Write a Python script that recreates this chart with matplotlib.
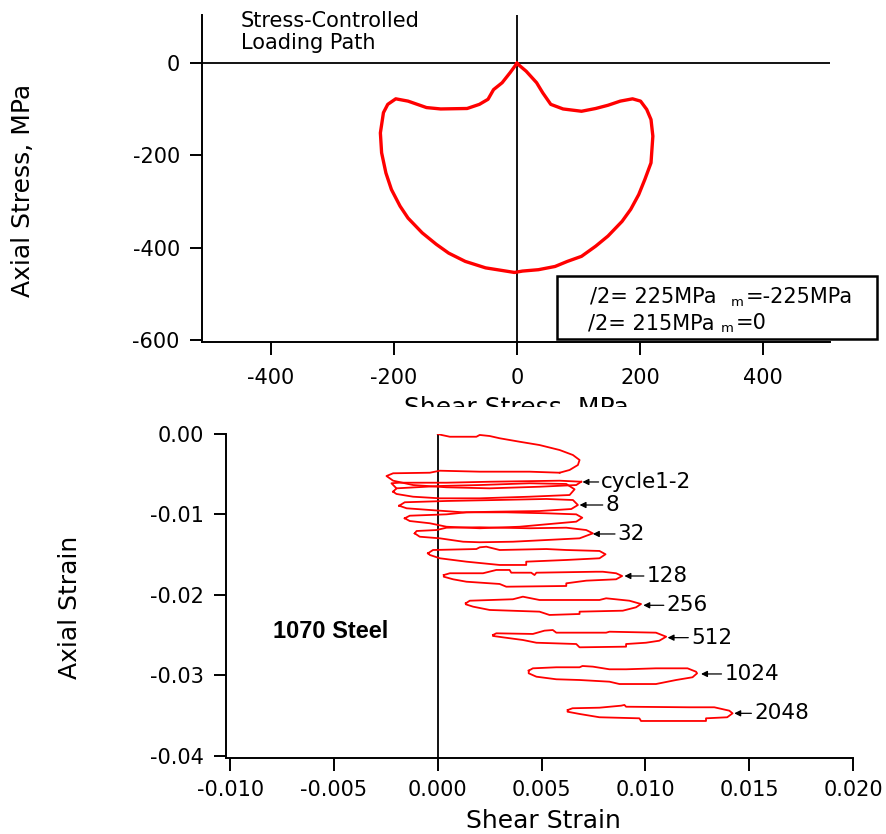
import matplotlib
matplotlib.use("Agg")
import matplotlib.pyplot as plt
from matplotlib.patches import Rectangle
from matplotlib.ticker import FormatStrFormatter

plt.rcParams['font.family'] = ['DejaVu Sans']
plt.rcParams['axes.unicode_minus'] = False

# ---------------- Top panel: stress path (MPa) ----------------
shear_stress = [0, 15, 32, 42, 55, 75, 105, 128, 148, 168, 188, 201, 211, 218, 221,
                218, 208, 198, 185, 171, 148, 128, 105, 82, 62, 35, 9, -4, -18, -51,
                -84, -111, -131, -154, -177, -190, -204, -213, -220, -222, -217, -210,
                -197, -177, -147, -124, -81, -61, -47, -38, -24, -11, 0]
axial_stress = [0, -17, -42, -64, -89, -99, -104, -98, -91, -82, -77, -82, -100, -122, -158,
                -216, -252, -285, -317, -343, -375, -397, -419, -430, -441, -448, -451, -454, -451, -444,
                -430, -412, -393, -368, -336, -310, -274, -238, -194, -151, -107, -89,
                -77, -82, -96, -99, -98, -89, -78, -57, -42, -20, 0]
top_xticks = [-400, -200, 0, 200, 400]
top_yticks = [0, -200, -400, -600]

# ---------------- Bottom panel: strain loops (values in 1e-3 strain) ----------------
initial_x = [0.00, 0.18, 0.58, 1.86, 2.02, 2.50, 2.98, 3.94, 4.90, 5.87, 6.51, 6.83, 6.75, 6.35, 5.87]
initial_y = [0.00, -0.12, -0.34, -0.34, -0.12, -0.25, -0.53, -0.96, -1.37, -1.99, -2.61, -3.23, -3.85, -4.47, -4.81]

cycle1_x = [5.87, 4.42, 2.02, 0.10, -0.38, -2.15, -2.47, -2.15, -1.19, 0.42, 2.50, 4.90, 6.67, 6.91]
cycle1_y = [-4.81, -4.68, -4.68, -4.56, -4.81, -4.88, -5.22, -5.80, -6.34, -6.62, -6.75, -6.55, -6.34, -5.93]
cycle2_x = [6.91, 5.87, 2.50, 0.42, -1.86, -2.23, -1.99]
cycle2_y = [-5.93, -5.80, -5.93, -6.05, -6.05, -6.12, -6.75]

cycle4_x = [-2.15, -1.99, 0.10, 2.02, 4.42, 6.19, 6.59, 6.35, 4.42, 2.02, 0.10, -1.19, -1.99, -2.15]
cycle4_y = [-7.17, -6.75, -6.46, -6.34, -6.12, -6.21, -6.87, -7.58, -7.79, -7.99, -7.99, -7.79, -7.45, -7.17]

cycle8_x = [-1.86, -1.59, 0.42, 2.82, 5.23, 6.51, 6.75, 6.43, 4.90, 2.82, 1.22, -0.38, -1.50, -1.86]
cycle8_y = [-8.91, -8.48, -8.32, -8.20, -8.07, -8.20, -8.82, -9.32, -9.57, -9.65, -9.73, -9.44, -9.23, -8.91]

cycle16_x = [-1.59, -1.35, 0.42, 1.38, 3.30, 5.23, 6.67, 6.96, 6.67, 5.23, 3.94, 2.02, 0.42, -0.38, -1.35, -1.59]
cycle16_y = [-10.47, -10.15, -9.98, -9.73, -9.73, -9.85, -9.98, -10.40, -10.89, -11.22, -11.52, -11.71, -11.52, -11.09, -10.81, -10.47]

cycle32_x = [-1.11, -1.02, -0.06, 0.42, 2.02, 4.42, 6.19, 7.15, 7.47, 6.83, 5.23, 3.62, 2.02, 1.22, 0.10, -0.87, -1.11]
cycle32_y = [-12.34, -12.05, -11.93, -11.64, -11.59, -11.71, -11.64, -11.93, -12.34, -12.96, -13.17, -13.38, -13.45, -13.38, -12.96, -12.76, -12.34]

cycle64_x = [-0.47, -0.23, 1.86, 2.02, 2.34, 2.98, 5.23, 6.19, 7.79, 8.08, 7.79, 6.19, 4.26, 4.26, 2.98, 1.38, 0.10, -0.38, -0.47]
cycle64_y = [-14.82, -14.41, -14.29, -14.08, -14.00, -14.41, -14.29, -14.41, -14.53, -14.94, -15.44, -15.65, -15.86, -16.27, -16.27, -15.86, -15.44, -15.03, -14.82]

cycle128_x = [0.29, 0.58, 2.18, 2.82, 3.46, 3.54, 4.50, 4.66, 4.75, 7.63, 7.95, 8.59, 8.88, 8.59, 7.15, 6.19, 6.19, 3.30, 2.98, 1.38, 0.74, 0.29, 0.29]
cycle128_y = [-17.52, -17.30, -17.30, -16.89, -16.89, -17.23, -17.23, -17.52, -17.23, -17.11, -17.11, -17.30, -17.64, -18.05, -18.22, -18.55, -18.88, -18.97, -18.63, -18.35, -18.05, -17.73, -17.52]

cycle256_x = [1.35, 1.54, 3.62, 4.10, 4.90, 7.79, 8.11, 9.23, 9.79, 9.55, 8.91, 6.83, 6.83, 5.38, 4.90, 2.50, 1.70, 1.35, 1.35]
cycle256_y = [-21.03, -20.71, -20.53, -20.21, -20.62, -20.62, -20.41, -20.71, -21.12, -21.53, -21.95, -22.07, -22.36, -22.48, -22.07, -21.86, -21.45, -21.16, -21.03]

cycle512_x = [2.66, 2.82, 4.58, 5.14, 5.54, 5.71, 8.11, 8.27, 10.51, 11.00, 10.67, 10.03, 9.07, 9.07, 6.83, 6.67, 4.75, 4.10, 3.14, 2.66, 2.66]
cycle512_y = [-24.97, -24.76, -24.84, -24.43, -24.35, -24.68, -24.68, -24.56, -24.68, -25.18, -25.68, -25.93, -26.09, -26.42, -26.50, -26.09, -25.93, -25.59, -25.26, -25.09, -24.97]

cycle1024_x = [4.38, 4.58, 5.71, 6.83, 6.97, 7.47, 8.27, 9.07, 10.51, 12.03, 12.44, 12.49, 12.27, 11.48, 10.51, 8.75, 8.27, 6.83, 5.71, 4.75, 4.38, 4.38]
cycle1024_y = [-29.40, -29.11, -28.98, -28.98, -28.82, -28.90, -29.23, -29.23, -29.11, -29.11, -29.53, -29.73, -30.22, -30.56, -31.06, -31.06, -30.77, -30.56, -30.47, -30.15, -29.73, -29.40]

cycle2048_x = [6.26, 6.49, 7.79, 8.83, 8.99, 9.07, 12.12, 13.32, 14.04, 14.20, 13.94, 12.92, 12.92, 9.79, 9.71, 7.79, 6.83, 6.25, 6.26]
cycle2048_y = [-34.29, -34.07, -34.00, -33.75, -33.66, -33.88, -33.95, -33.95, -34.37, -34.70, -35.19, -35.32, -35.65, -35.65, -35.32, -35.19, -34.78, -34.50, -34.29]

label_text = ["cycle1-2", "8", "32", "128", "256", "512", "1024", "2048"]
arrow_tip_x = [6.97, 6.83, 7.47, 8.99, 9.90, 11.07, 12.68, 14.28]
arrow_tip_y = [-5.96, -8.82, -12.42, -17.64, -21.28, -25.30, -29.81, -34.70]
label_x = [7.88, 8.08, 8.67, 10.06, 11.02, 12.20, 13.80, 15.24]

bottom_xticks = [-0.010, -0.005, 0.000, 0.005, 0.010, 0.015, 0.020]
bottom_yticks = [0.00, -0.01, -0.02, -0.03, -0.04]

MILLI = 1e-3
W, H = 887, 834

fig = plt.figure(figsize=(W / 100, H / 100), dpi=100)

def fx(px):
    return px / W

def fy(py):
    return (H - py) / H

# ---------- top axes ----------
ax1 = fig.add_axes([fx(202), fy(342), 628 / W, 327 / H])
ax1.set_xlim(-512, 509)
ax1.set_ylim(-605, 105)
ax1.axhline(0, color='black', lw=1.3, zorder=1)
ax1.axvline(0, color='black', lw=1.3, zorder=1)
ax1.plot(shear_stress, axial_stress, color='#ff0000', lw=2.4, zorder=3,
         solid_joinstyle='round')
ax1.set_xticks(top_xticks)
ax1.set_yticks(top_yticks)
ax1.set_xticklabels([str(v) for v in top_xticks])
ax1.set_yticklabels([str(v) for v in top_yticks])

# ---------- bottom axes ----------
ax2 = fig.add_axes([fx(226), fy(758), 627 / W, 324 / H])
ax2.set_xlim(-0.0102, 0.020)
ax2.set_ylim(-0.04025, 0.0)
ax2.axvline(0, color='black', lw=1.3, zorder=1)

loops = [(initial_x, initial_y), (cycle1_x, cycle1_y), (cycle2_x, cycle2_y),
         (cycle4_x, cycle4_y), (cycle8_x, cycle8_y), (cycle16_x, cycle16_y),
         (cycle32_x, cycle32_y), (cycle64_x, cycle64_y), (cycle128_x, cycle128_y),
         (cycle256_x, cycle256_y), (cycle512_x, cycle512_y),
         (cycle1024_x, cycle1024_y), (cycle2048_x, cycle2048_y)]
for lx, ly in loops:
    ax2.plot([v * MILLI for v in lx], [v * MILLI for v in ly], color='#ff0000',
             lw=1.3, zorder=3)

for t, tx, ty, lxx in zip(label_text, arrow_tip_x, arrow_tip_y, label_x):
    ax2.annotate(t, xy=(tx * MILLI, ty * MILLI), xytext=(lxx * MILLI, ty * MILLI),
                 ha='left', va='center', fontsize=15.5, color='black',
                 arrowprops=dict(arrowstyle='-|>', color='black', lw=0.9,
                                 shrinkA=0, shrinkB=0, mutation_scale=9))

ax2.set_xticks(bottom_xticks)
ax2.set_yticks(bottom_yticks)
ax2.xaxis.set_major_formatter(FormatStrFormatter('%.3f'))
ax2.yaxis.set_major_formatter(FormatStrFormatter('%.2f'))

for ax in (ax1, ax2):
    ax.spines['top'].set_visible(False)
    ax.spines['right'].set_visible(False)
    ax.spines['left'].set_linewidth(1.4)
    ax.spines['bottom'].set_linewidth(1.4)
    ax.tick_params(direction='out', length=9, width=1.4, labelsize=15, colors='black')
    ax.set_facecolor('none')

ax1.tick_params(axis='x', pad=10)
ax1.tick_params(axis='y', pad=7)
ax2.tick_params(axis='x', pad=7)
ax2.tick_params(axis='y', pad=7)

# ---------- texts ----------
fig.text(fx(241), fy(11), "Stress-Controlled\nLoading Path", ha='left', va='top',
         fontsize=15, linespacing=1.1)
fig.text(fx(23), fy(190), "Axial Stress, MPa", rotation=90, ha='center', va='center',
         fontsize=18)
fig.text(fx(516), fy(396), "Shear Stress, MPa", ha='center', va='top', fontsize=18)
# mask the lower part of the top x label, as in the reference
fig.add_artist(Rectangle((0, fy(426)), 1, (426 - 407) / H, transform=fig.transFigure,
                         facecolor='white', edgecolor='none', zorder=5))

fig.text(fx(70), fy(607), "Axial Strain", rotation=90, ha='center', va='center',
         fontsize=18)
fig.text(fx(543), fy(821), "Shear Strain", ha='center', va='center', fontsize=18)
fig.text(fx(273), fy(631), "1070 Steel", ha='left', va='center', fontsize=17,
         fontweight='bold', family=['Liberation Sans', 'DejaVu Sans'])

# legend-like box
fig.add_artist(Rectangle((fx(557), fy(339)), (877 - 557) / W, (339 - 276) / H,
                         transform=fig.transFigure, facecolor='white',
                         edgecolor='black', lw=1.8, zorder=6))
fig.text(fx(590), fy(297), "/2= 225MPa", ha='left', va='center', fontsize=15, zorder=7)
fig.text(fx(731), fy(303), "m", ha='left', va='center', fontsize=9.5, zorder=7)
fig.text(fx(746), fy(297), "=-225MPa", ha='left', va='center', fontsize=15, zorder=7)
fig.text(fx(588), fy(323), "/2= 215MPa", ha='left', va='center', fontsize=15, zorder=7)
fig.text(fx(721), fy(329), "m", ha='left', va='center', fontsize=9.5, zorder=7)
fig.text(fx(736), fy(323), "=0", ha='left', va='center', fontsize=15, zorder=7)

fig.savefig("out.png", dpi=100, facecolor='white')
